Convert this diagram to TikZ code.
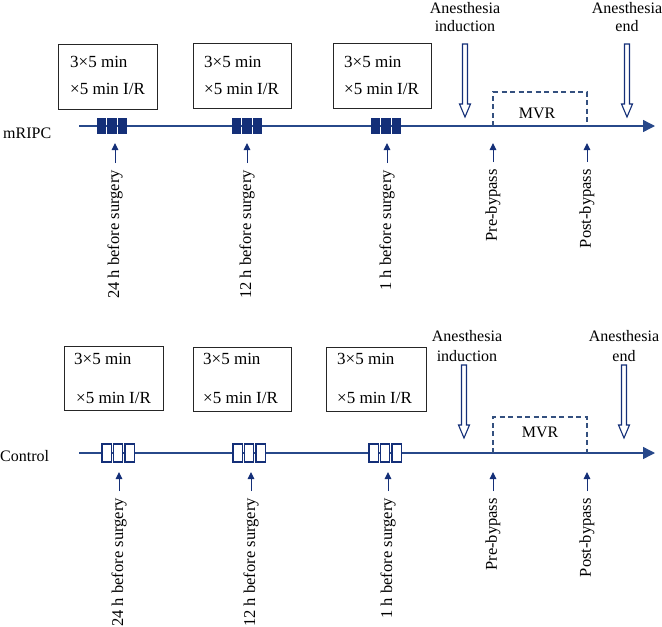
\documentclass[tikz,border=0pt]{standalone}
\usepackage{fontspec}
\setmainfont{Liberation Serif}
\usetikzlibrary{arrows.meta}
\definecolor{navy}{HTML}{142F78}
\definecolor{tline}{HTML}{27488A}
\definecolor{dashc}{HTML}{34507F}
\tikzset{
  lbl/.style={font=\fontsize{16}{19}\selectfont, inner sep=0pt, anchor=base},
  boxtxt/.style={font=\fontsize{17}{20}\selectfont, inner sep=0pt, anchor=base west},
  rot/.style={font=\fontsize{16.5}{19}\selectfont, inner sep=0pt, rotate=90, anchor=east},
  ibox/.style={draw=black!85, line width=0.9pt, minimum width=#1, inner sep=0pt},
  timeline/.style={draw=tline, line width=1.4pt, -{Triangle[length=12pt,width=12pt]}},
  uparr/.style={draw=navy, line width=1pt, -{Triangle[length=7pt,width=6.5pt]}, shorten <=7pt},
  fblk/.style={fill=navy, draw=none},
  oblk/.style={fill=white, draw=navy, line width=1.1pt},
  holl/.style={draw=navy, fill=white, line width=1.1pt},
  mvr/.style={draw=dashc, line width=1.2pt, dash pattern=on 5pt off 3.5pt},
}
\begin{document}
\begin{tikzpicture}[x=1pt,y=-1pt]
\useasboundingbox (0,0) rectangle (662,627);

% ================= TOP (mRIPC) =================
\node[lbl, anchor=base west] (mr) at (3,138) {mRIPC};
\coordinate (ts) at (79,126);
\coordinate (te) at (655,126);
\draw[timeline] (ts) -- (te);

% boxes
\node[ibox=99pt, minimum height=65pt] (b1) at (107.5,76.5) {};
\node[ibox=98pt, minimum height=65pt] (b2) at (242,75.5) {};
\node[ibox=98pt, minimum height=65pt] (b3) at (382,75.5) {};
\node[boxtxt] (b1a) at (70,67) {3×5 min};
\node[boxtxt] (b1b) at (70,94) {×5 min I/R};
\node[boxtxt] (b2a) at (204,67) {3×5 min};
\node[boxtxt] (b2b) at (204,94) {×5 min I/R};
\node[boxtxt] (b3a) at (344,67) {3×5 min};
\node[boxtxt] (b3b) at (344,94) {×5 min I/R};

% filled blocks
\foreach \x in {97,232,371}{
  \fill[fblk] (\x,118) rectangle ++(9.4,16);
  \fill[fblk] (\x+10.4,118) rectangle ++(9.4,16);
  \fill[fblk] (\x+20.8,118) rectangle ++(9.4,16);
}

% MVR
\coordinate (m1a) at (493,126);
\coordinate (m1b) at (587,126);
\draw[mvr] (m1a) -- (493,92) -- (587,92) -- (m1b);
\node[lbl] (mvr1) at (537,118) {MVR};

% anesthesia
\node[lbl] (ai1) at (465,13) {Anesthesia};
\node[lbl] (ai2) at (465,31) {induction};
\node[lbl] (ae1) at (627,13) {Anesthesia};
\node[lbl] (ae2) at (627,31) {end};
\foreach \c in {465,627}{
  \draw[holl] (\c-2.5,44) -- (\c+2.5,44) -- (\c+2.5,104) -- (\c+5.5,104) -- (\c,117)
     -- (\c-5.5,104) -- (\c-2.5,104) -- cycle;
}

% up arrows and rotated labels
\node[rot] (r1) at (115,170) {24 h before surgery};
\node[rot] (r2) at (247,170) {12 h before surgery};
\node[rot] (r3) at (387,170) {1 h before surgery};
\node[rot] (r4) at (493,169) {Pre-bypass};
\node[rot] (r5) at (587,169) {Post-bypass};
\coordinate (p1) at (115,143);
\coordinate (p2) at (247,143);
\coordinate (p3) at (387,143);
\coordinate (p4) at (493,143);
\coordinate (p5) at (587,143);
\draw[uparr] (r1.east) -- (p1);
\draw[uparr] (r2.east) -- (p2);
\draw[uparr] (r3.east) -- (p3);
\draw[uparr] (r4.east) -- (p4);
\draw[uparr] (r5.east) -- (p5);

% ================= BOTTOM (Control) =================
\node[lbl, anchor=base west] (ct) at (0,461) {Control};
\coordinate (bs) at (79,453);
\coordinate (be) at (655,453);
\draw[timeline] (bs) -- (be);

\node[ibox=99pt, minimum height=64pt] (c1) at (113.5,378.5) {};
\node[ibox=98pt, minimum height=64pt] (c2) at (242,379) {};
\node[ibox=100pt, minimum height=64pt] (c3) at (376,379) {};
\node[boxtxt] (c1a) at (74,364) {3×5 min};
\node[boxtxt] (c1b) at (76,403) {×5 min I/R};
\node[boxtxt] (c2a) at (203,364) {3×5 min};
\node[boxtxt] (c2b) at (203,403) {×5 min I/R};
\node[boxtxt] (c3a) at (337,364) {3×5 min};
\node[boxtxt] (c3b) at (337,403) {×5 min I/R};

% open blocks
\foreach \x in {102,233,369}{
  \draw[oblk] (\x,444) rectangle ++(9.3,18);
  \draw[oblk] (\x+11.5,444) rectangle ++(9.3,18);
  \draw[oblk] (\x+23,444) rectangle ++(9.3,18);
}

% MVR
\coordinate (m2a) at (493,453);
\coordinate (m2b) at (587,453);
\draw[mvr] (m2a) -- (493,417) -- (587,417) -- (m2b);
\node[lbl] (mvr2) at (540,437) {MVR};

\node[lbl] (bi1) at (467,341) {Anesthesia};
\node[lbl] (bi2) at (467,361) {induction};
\node[lbl] (bn1) at (624,341) {Anesthesia};
\node[lbl] (bn2) at (624,361) {end};
\foreach \c in {464,624}{
  \draw[holl] (\c-2.5,365) -- (\c+2.5,365) -- (\c+2.5,425) -- (\c+5.5,425) -- (\c,438)
     -- (\c-5.5,425) -- (\c-2.5,425) -- cycle;
}

\node[rot] (s1) at (119,498) {24 h before surgery};
\node[rot] (s2) at (251,498) {12 h before surgery};
\node[rot] (s3) at (388,498) {1 h before surgery};
\node[rot] (s4) at (493,498) {Pre-bypass};
\node[rot] (s5) at (587,498) {Post-bypass};
\coordinate (q1) at (119,472);
\coordinate (q2) at (251,472);
\coordinate (q3) at (388,472);
\coordinate (q4) at (493,472);
\coordinate (q5) at (587,472);
\draw[uparr] (s1.east) -- (q1);
\draw[uparr] (s2.east) -- (q2);
\draw[uparr] (s3.east) -- (q3);
\draw[uparr] (s4.east) -- (q4);
\draw[uparr] (s5.east) -- (q5);
\end{tikzpicture}
\end{document}
